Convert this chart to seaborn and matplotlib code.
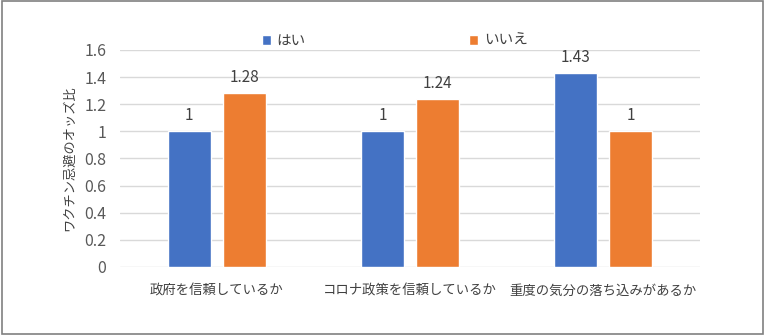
import matplotlib
matplotlib.use("Agg")
import matplotlib.pyplot as plt
import seaborn as sns
import pandas as pd
from matplotlib.patches import Rectangle

# Chart data
categories = ["政府を信頼しているか", "コロナ政策を信頼しているか", "重度の気分の落ち込みがあるか"]
series_names = ["はい", "いいえ"]
yes_values = [1, 1, 1.43]
no_values = [1.28, 1.24, 1]
y_ticks = [0, 0.2, 0.4, 0.6, 0.8, 1, 1.2, 1.4, 1.6]
y_label = "ワクチン忌避のオッズ比"

colors = ["#4472C4", "#ED7D31"]

df = pd.DataFrame({
    "category": categories * 2,
    "answer": [series_names[0]] * len(categories) + [series_names[1]] * len(categories),
    "value": yes_values + no_values,
})

sns.set_theme(style="white")
plt.rcParams["font.family"] = ["Noto Sans CJK JP", "DejaVu Sans"]

fig = plt.figure(figsize=(7.65, 3.35), dpi=100)
ax = fig.add_axes([0.157, 0.203, 0.758, 0.648])

sns.barplot(data=df, x="category", y="value", hue="answer", order=categories,
            hue_order=series_names, palette=colors, width=0.57, gap=0.22,
            saturation=1, ax=ax, legend=True)

for cont in ax.containers:
    ax.bar_label(cont, fmt="%g", padding=5, fontsize=11, color="#404040")

ax.set_ylim(0, 1.6)
ax.set_yticks(y_ticks)
ax.set_yticklabels([f"{t:g}" for t in y_ticks], fontsize=11.5, color="#595959")
ax.tick_params(axis="x", labelsize=9.6, colors="#404040", length=0, pad=12)
ax.tick_params(axis="y", length=0, pad=10)
ax.set_xlabel("")
ax.set_ylabel(y_label, fontsize=9.5, color="#404040", labelpad=6)
ax.yaxis.grid(True, color="#D9D9D9", linewidth=1)
ax.set_axisbelow(True)
for s in ax.spines.values():
    s.set_visible(False)

handles, labels = ax.get_legend_handles_labels()
ax.legend(handles, labels, loc="center", bbox_to_anchor=(0.474, 1.04), ncol=2,
          frameon=False, fontsize=10.5, handlelength=0.6, handleheight=0.6,
          handletextpad=0.4, columnspacing=11.2, labelcolor="#404040",
          borderpad=0, borderaxespad=0)

# outer frame
fig.patches.append(Rectangle((0.002, 0.003), 0.995, 0.994, transform=fig.transFigure,
                             fill=False, edgecolor="#808080", linewidth=1.2))

fig.savefig("out.png", dpi=100)
